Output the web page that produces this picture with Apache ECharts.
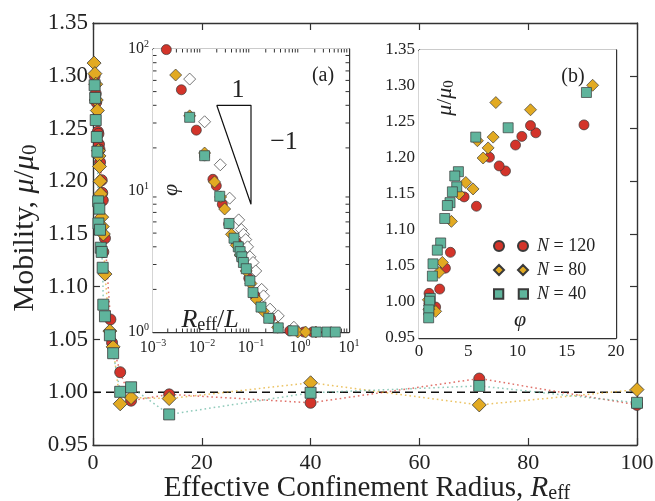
<!DOCTYPE html>
<html><head><meta charset="utf-8">
<script src="https://cdn.jsdelivr.net/npm/echarts@6/dist/echarts.min.js"></script>
<style>html,body{margin:0;padding:0;background:#fff}#c{width:655px;height:501px}</style>
</head><body><div id="c"></div>
<script>
// ---------------- data ----------------
// Main panel: mobility vs effective confinement radius
const redR   = [0.3, 0.5, 0.6, 0.9, 1.0, 1.1, 1.2, 1.3, 1.6, 1.7, 1.8, 1.9, 2.2, 3.2, 3.5, 5, 7, 14, 40, 71, 100];
const redMu  = [1.300, 1.283, 1.275, 1.247, 1.245, 1.235, 1.230, 1.218, 1.201, 1.189, 1.182, 1.133, 1.146, 1.069, 1.047, 1.019, 0.992, 0.998, 0.990, 1.013, 0.988];
const goldR  = [0.2, 0.35, 0.5, 0.6, 0.8, 1.0, 1.1, 1.2, 1.3, 1.4, 1.6, 1.7, 1.9, 2.2, 3.1, 3.7, 5, 7, 14, 40, 71, 100];
const goldMu = [1.312, 1.302, 1.292, 1.277, 1.267, 1.229, 1.224, 1.214, 1.200, 1.188, 1.166, 1.157, 1.150, 1.112, 1.058, 1.043, 0.989, 0.995, 0.994, 1.009, 0.988, 1.0025];
const tealR  = [0.3, 0.4, 0.5, 0.7, 0.8, 0.95, 1.0, 1.16, 1.29, 1.42, 1.6, 1.78, 1.89, 2.2, 3.1, 3.7, 5, 7, 14, 40, 71, 100];
const tealMu = [1.291, 1.279, 1.258, 1.242, 1.228, 1.181, 1.160, 1.174, 1.154, 1.137, 1.133, 1.118, 1.083, 1.072, 1.054, 1.037, 1.0004, 1.0047, 0.979, 0.9995, 1.006, 0.990];

// Inset (a): phi vs R_eff / L (log-log)
const redAx  = [0.00187, 0.00379, 0.00766, 0.0113, 0.0167, 0.0196, 0.026, 0.035, 0.05, 0.065, 0.09, 0.12, 0.25, 0.62, 1.2, 1.8];
const redAy  = [99, 51.5, 26.7, 17.6, 12.0, 10.8, 8.0, 5.8, 4.3, 3.3, 2.4, 1.8, 1.25, 1.02, 1.0, 1.0];
const goldAx = [0.0029, 0.0056, 0.0113, 0.018, 0.024, 0.029, 0.04, 0.05, 0.06, 0.08, 0.1, 0.13, 0.18, 0.35, 0.9, 1.3, 2.1];
const goldAy = [65.5, 33.7, 18.4, 11.5, 9.0, 7.4, 4.9, 4.1, 3.5, 2.7, 2.2, 1.7, 1.4, 1.08, 1.0, 1.0, 1.0];
const tealAx = [0.0056, 0.0113, 0.023, 0.0356, 0.045, 0.055, 0.06, 0.065, 0.07, 0.08, 0.095, 0.11, 0.16, 0.23, 0.36, 0.72, 2.15, 3.56, 5.26];
const tealAy = [32.9, 17.6, 9.1, 5.85, 4.6, 4.0, 3.7, 3.4, 3.1, 2.8, 2.3, 1.9, 1.5, 1.25, 1.07, 1.02, 1.0, 1.0, 1.0];
const openAx = [0.0056, 0.0113, 0.0236, 0.0366, 0.056, 0.0635, 0.07, 0.078, 0.085, 0.095, 0.11, 0.125, 0.165, 0.18, 0.245, 0.36, 0.75];
const openAy = [61.3, 30.6, 15.2, 8.83, 6.2, 5.3, 4.9, 4.5, 4.0, 3.4, 3.1, 2.7, 2.0, 1.8, 1.45, 1.3, 1.08];
const slopeTriangle = [[0.02, 40], [0.1, 40], [0.1, 8], [0.02, 40]];

// Inset (b): mobility vs phi
const redBphi  = [16.75, 11.86, 11.32, 10.44, 9.80, 8.78, 8.14, 7.15, 5.83, 4.58, 3.19, 2.68, 2.10, 1.02, 1.08, 1.69, 1.0, 1.0];
const redBmu   = [1.246, 1.235, 1.245, 1.230, 1.218, 1.182, 1.189, 1.201, 1.133, 1.146, 1.069, 1.047, 1.018, 1.012, 1.005, 0.993, 0.998, 0.989];
const goldBphi = [17.63, 11.32, 7.80, 7.53, 7.02, 6.51, 5.93, 5.49, 4.75, 4.07, 3.29, 2.37, 2.03, 1.69, 0.95, 1.0, 1.1];
const goldBmu  = [1.301, 1.267, 1.277, 1.229, 1.214, 1.200, 1.224, 1.157, 1.166, 1.150, 1.112, 1.055, 1.041, 0.987, 1.003, 0.990, 0.995];
const tealBphi = [17.0, 9.05, 5.76, 4.0, 3.63, 3.83, 3.39, 3.15, 2.88, 2.61, 2.20, 1.86, 1.42, 1.36, 1.15, 1.08, 1.0, 0.98];
const tealBmu  = [1.291, 1.242, 1.229, 1.181, 1.175, 1.160, 1.153, 1.138, 1.134, 1.116, 1.082, 1.072, 1.053, 1.036, 1.005, 1.001, 0.989, 0.978];

const seriesNames = ['N = 120', 'N = 80', 'N = 40'];
const mainXTicks = [0, 100, 20];
const mainYTicks = [0.95, 1.35, 0.05];
const insetAXDecades = [0.001, 0.01, 0.1, 1];
const insetAYDecades = [1, 10];
const minorMult = [2, 3, 4, 5, 6, 7, 8, 9];

// ---------------- styling ----------------
const FONT = '"Liberation Serif", "DejaVu Serif", serif';
const RED = '#d3342a', GOLD = '#e2aa22', TEAL = '#5fb49c', EDGE = '#3a3a3a', AX = '#333';
const zip = (a, b) => a.map((v, i) => [v, b[i]]);

const chart = echarts.init(document.getElementById('c'), null, {renderer: 'canvas'});

function axisBase(extra) {
  return Object.assign({
    axisLine: {show: true, onZero: false, lineStyle: {color: AX, width: 1.4}},
    axisTick: {show: true, inside: true, length: 7, lineStyle: {color: AX, width: 1.2}},
    splitLine: {show: false},
    axisLabel: {color: '#222', fontFamily: FONT}
  }, extra);
}
const supRich = {sup: {fontSize: 10, fontFamily: FONT, color: '#222', verticalAlign: 'top', padding: [0, 0, 9, 0]}, b: {fontSize: 16, fontFamily: FONT, color: '#222'}};
const logFmt = v => { const e = Math.round(Math.log10(v)); return '{b|10}{sup|' + (e < 0 ? '\u2212' + (-e) : e) + '}'; };

const grids = [
  {left: 93, top: 23, width: 544, height: 422, containLabel: false, outerBoundsMode: 'none'},
  {left: 153, top: 49, width: 196, height: 283, show: true, backgroundColor: '#fff', borderWidth: 0, z: 5, containLabel: false, outerBoundsMode: 'none'},
  {left: 419, top: 50, width: 197, height: 288, show: true, backgroundColor: '#fff', borderWidth: 0, z: 5, containLabel: false, outerBoundsMode: 'none'}
];

const insetTick = {show: true, inside: true, length: 6, lineStyle: {color: AX, width: 1}};

const xAxes = [
  axisBase({gridIndex: 0, type: 'value', min: mainXTicks[0], max: mainXTicks[1], interval: mainXTicks[2], position: 'bottom',
    axisLabel: {fontSize: 22, margin: 7, color: '#222', fontFamily: FONT}}),
  axisBase({gridIndex: 0, type: 'value', min: mainXTicks[0], max: mainXTicks[1], interval: mainXTicks[2], position: 'top', axisLabel: {show: false}}),
  axisBase({gridIndex: 1, type: 'log', logBase: 10, min: 0.001, max: 10, position: 'bottom',
    axisTick: insetTick, axisLabel: {formatter: logFmt, margin: 6, rich: supRich}}),
  axisBase({gridIndex: 1, type: 'log', logBase: 10, min: 0.001, max: 10, position: 'top', axisLabel: {show: false}, axisTick: insetTick}),
  axisBase({gridIndex: 2, type: 'value', min: 0, max: 20, interval: 5, position: 'bottom',
    axisTick: insetTick, axisLabel: {fontSize: 17, margin: 5, color: '#222', fontFamily: FONT}}),
  axisBase({gridIndex: 2, type: 'value', min: 0, max: 20, interval: 5, position: 'top', axisLabel: {show: false}, axisTick: insetTick})
];
const yAxes = [
  axisBase({gridIndex: 0, type: 'value', min: mainYTicks[0], max: mainYTicks[1], interval: mainYTicks[2], position: 'left',
    axisLabel: {fontSize: 23, margin: 5, color: '#222', fontFamily: FONT, formatter: v => v.toFixed(2)}}),
  axisBase({gridIndex: 0, type: 'value', min: mainYTicks[0], max: mainYTicks[1], interval: mainYTicks[2], position: 'right', axisLabel: {show: false}}),
  axisBase({gridIndex: 1, type: 'log', logBase: 10, min: 1, max: 100, position: 'left',
    axisTick: insetTick, axisLabel: {formatter: logFmt, margin: 4, rich: supRich}}),
  axisBase({gridIndex: 1, type: 'log', logBase: 10, min: 1, max: 100, position: 'right', axisLabel: {show: false}, axisTick: insetTick}),
  axisBase({gridIndex: 2, type: 'value', min: 0.95, max: 1.35, interval: 0.05, position: 'left',
    axisTick: insetTick, axisLabel: {fontSize: 17, margin: 4, color: '#222', fontFamily: FONT, formatter: v => v.toFixed(2)}}),
  axisBase({gridIndex: 2, type: 'value', min: 0.95, max: 1.35, interval: 0.05, position: 'right', axisLabel: {show: false}, axisTick: insetTick})
];

function mainSeries(name, R, mu, color, symbol, size) {
  return {type: 'line', name: name, xAxisIndex: 0, yAxisIndex: 0, data: zip(R, mu), symbol: symbol, symbolSize: size,
    showAllSymbol: true, z: 3,
    lineStyle: {type: [1.6, 3], width: 1.5, color: color, opacity: 0.7},
    itemStyle: {color: color, borderColor: EDGE, borderWidth: 0.8}, emphasis: {disabled: true}, silent: true};
}
function scat(name, x, y, axis, color, symbol, size, z) {
  return {type: 'scatter', name: name, xAxisIndex: axis, yAxisIndex: axis, data: zip(x, y), symbol: symbol, symbolSize: size, z: z || 10,
    itemStyle: {color: color, borderColor: EDGE, borderWidth: 0.7, opacity: 1}, emphasis: {disabled: true}, silent: true};
}
const A = 2, B = 4; // axis indices of inset (a) and inset (b)

// minor tick positions of the log inset: [x, y, flag] flag 0 -> x axis, 1 -> y axis
const minorTicks = [];
insetAXDecades.forEach(d => minorMult.forEach(m => minorTicks.push([d * m, 1, 0])));
insetAYDecades.forEach(d => minorMult.forEach(m => minorTicks.push([0.001, d * m, 1])));

const series = [
  {type: 'line', name: 'unity', xAxisIndex: 0, yAxisIndex: 0, data: [[mainXTicks[0], 1], [mainXTicks[1], 1]], symbol: 'none', z: 2,
   lineStyle: {color: '#111', width: 1.4, type: [8, 5]}, silent: true},
  mainSeries('m120', redR, redMu, RED, 'circle', 11),
  mainSeries('m80', goldR, goldMu, GOLD, 'diamond', 14),
  mainSeries('m40', tealR, tealMu, TEAL, 'rect', 11),
  // inset a
  {type: 'custom', name: 'minor', xAxisIndex: A, yAxisIndex: A, data: minorTicks, z: 8, silent: true,
   renderItem: function (params, api) {
     const L = 3.5, st = {stroke: AX, lineWidth: 1};
     if (api.value(2) === 0) {
       const b = api.coord([api.value(0), 1]), t = api.coord([api.value(0), 100]);
       return {type: 'group', children: [
         {type: 'line', shape: {x1: b[0], y1: b[1], x2: b[0], y2: b[1] - L}, style: st},
         {type: 'line', shape: {x1: t[0], y1: t[1], x2: t[0], y2: t[1] + L}, style: st}]};
     }
     const l = api.coord([0.001, api.value(1)]), r = api.coord([10, api.value(1)]);
     return {type: 'group', children: [
       {type: 'line', shape: {x1: l[0], y1: l[1], x2: l[0] + L, y2: l[1]}, style: st},
       {type: 'line', shape: {x1: r[0], y1: r[1], x2: r[0] - L, y2: r[1]}, style: st}]};
   }},
  {type: 'line', name: 'slope', xAxisIndex: A, yAxisIndex: A, data: slopeTriangle, symbol: 'none', z: 9,
   lineStyle: {color: '#111', width: 1.2}, silent: true},
  scat('open', openAx, openAy, A, '#ffffff', 'diamond', 12, 10),
  scat('a120', redAx, redAy, A, RED, 'circle', 10, 11),
  scat('a80', goldAx, goldAy, A, GOLD, 'diamond', 12, 12),
  scat('a40', tealAx, tealAy, A, TEAL, 'rect', 10, 13),
  // inset b
  scat(seriesNames[0], redBphi, redBmu, B, RED, 'circle', 10, 11),
  scat(seriesNames[1], goldBphi, goldBmu, B, GOLD, 'diamond', 12, 12),
  scat(seriesNames[2], tealBphi, tealBmu, B, TEAL, 'rect', 10, 13)
];

const circ2 = 'path://M0,5a5,5 0 1,0 10,0a5,5 0 1,0 -10,0ZM24,5a5,5 0 1,0 10,0a5,5 0 1,0 -10,0Z';
const diam2 = 'path://M5,0L10,5L5,10L0,5ZM29,0L34,5L29,10L24,5Z';
const rect2 = 'path://M0.5,0.5H9.5V9.5H0.5ZM24.5,0.5H33.5V9.5H24.5Z';

const T = (x, y, text, size, extra) => Object.assign({type: 'text', x: x, y: y, z: 50,
  style: Object.assign({text: text, fontSize: size, fontFamily: FONT, fill: '#222', align: 'center', verticalAlign: 'middle'}, extra || {})});
const gRich = (fs, pad) => ({i: {fontSize: fs, fontStyle: 'italic', fontFamily: FONT, fill: '#222'},
  s: {fontSize: Math.round(fs * 0.7), fontFamily: FONT, fill: '#222', verticalAlign: 'bottom', padding: [pad, 0, 0, 0]}});

chart.setOption({
  animation: false,
  backgroundColor: '#fff',
  grid: grids,
  xAxis: xAxes,
  yAxis: yAxes,
  series: series,
  legend: {
    data: [{name: seriesNames[0], icon: circ2}, {name: seriesNames[1], icon: diam2}, {name: seriesNames[2], icon: rect2}],
    orient: 'vertical', left: 488, top: 231, itemWidth: 34, itemHeight: 10, itemGap: 4,
    selectedMode: false, z: 60,
    formatter: n => '{i|N} = ' + n.split('= ')[1],
    textStyle: {fontSize: 18, fontFamily: FONT, color: '#222', lineHeight: 20, padding: [0, 0, 0, 4],
      rich: {i: {fontSize: 18, fontFamily: FONT, fontStyle: 'italic', color: '#222'}}}
  },
  graphic: [
    // main axis titles
    T(367, 488, 'Effective Confinement Radius, {i|R}{s|eff}', 29, {rich: gRich(29, 11)}),
    Object.assign(T(25, 228, 'Mobility, {i|\u03bc}/{i|\u03bc}{s|0}', 30, {rich: gRich(30, 11)}), {rotation: Math.PI / 2}),
    // inset annotations
    T(323, 76, '(a)', 20),
    T(238, 90, '1', 26),
    T(284, 142, '\u22121', 26),
    Object.assign(T(171, 190, '\u03c6', 22, {fontStyle: 'italic'}), {rotation: Math.PI / 2}),
    T(210, 320, '{i|R}{s|eff}/{i|L}', 26, {rich: gRich(26, 10)}),
    T(573, 77, '(b)', 20),
    Object.assign(T(445, 98, '{i|\u03bc}/{i|\u03bc}{s|0}', 22, {rich: gRich(22, 8)}), {rotation: Math.PI / 2}),
    T(520, 320, '\u03c6', 22, {fontStyle: 'italic'})
  ]
});
</script></body></html>
